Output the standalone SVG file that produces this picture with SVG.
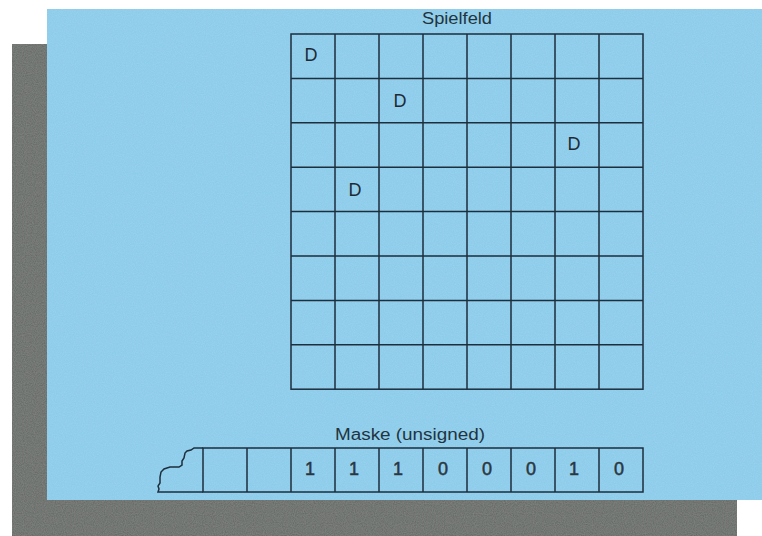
<svg xmlns="http://www.w3.org/2000/svg" width="762" height="536" viewBox="0 0 762 536">
<style>
.ln{fill:none;stroke:#1d2e3c;stroke-width:1.5}
.lbl{font-family:"Liberation Sans",Arial,sans-serif;fill:#23343f}
.d{font-family:"Liberation Sans",Arial,sans-serif;font-size:18px;fill:#1d2a36;text-anchor:middle}
.n{font-family:"Liberation Sans",Arial,sans-serif;font-size:18px;fill:#2a3640;stroke:#2a3640;stroke-width:0.5;text-anchor:middle}
</style>
<defs>
<filter id="tex" x="0" y="0" width="100%" height="100%">
<feTurbulence type="fractalNoise" baseFrequency="0.9" numOctaves="2" seed="3" result="noise"/>
<feColorMatrix in="noise" type="matrix" values="0 0 0 0 1  0 0 0 0 1  0 0 0 0 1  0 0 0 0.12 0" result="wn"/>
<feComposite in="wn" in2="SourceGraphic" operator="in" result="wc"/>
<feMerge><feMergeNode in="SourceGraphic"/><feMergeNode in="wc"/></feMerge>
</filter>
</defs>
<rect width="762" height="536" fill="#ffffff"/>
<g id="shadow"><rect x="12" y="44" width="725" height="492" fill="#626662" filter="url(#tex)"/></g>
<g id="panel"><rect x="47" y="9" width="715" height="491" fill="#86cbea" filter="url(#tex)"/></g>
<g id="spielfeld">
<text class="lbl" x="457" y="24" font-size="16" text-anchor="middle" textLength="70" lengthAdjust="spacingAndGlyphs">Spielfeld</text>
<rect class="ln" x="291" y="34" width="352" height="355.2"/>
<path class="ln" d="M335,34V389.2M379,34V389.2M423,34V389.2M467,34V389.2M511,34V389.2M555,34V389.2M599,34V389.2M291,78.4H643M291,122.8H643M291,167.2H643M291,211.6H643M291,256H643M291,300.4H643M291,344.8H643"/>
<text class="d" x="311" y="61">D</text>
<text class="d" x="400" y="107">D</text>
<text class="d" x="574" y="150">D</text>
<text class="d" x="355" y="196">D</text>
</g>
<g id="maske">
<text class="lbl" x="410" y="440" font-size="16" text-anchor="middle" textLength="150" lengthAdjust="spacingAndGlyphs">Maske (unsigned)</text>
<path class="ln" d="M203,448L194,448L191,450L187,451L185,453L184,458L182,461L182,465L179,467L170,467L164,469L161,472L160,477L160,483L158,486L159,489L158,492L203,492"/>
<rect class="ln" x="203" y="448" width="440" height="44"/>
<path class="ln" d="M247,448V492M291,448V492M335,448V492M379,448V492M423,448V492M467,448V492M511,448V492M555,448V492M599,448V492"/>
<text class="n" x="310" y="475">1</text>
<text class="n" x="354" y="475">1</text>
<text class="n" x="398" y="475">1</text>
<text class="n" x="443" y="475">0</text>
<text class="n" x="487" y="475">0</text>
<text class="n" x="531" y="475">0</text>
<text class="n" x="574" y="475">1</text>
<text class="n" x="619" y="475">0</text>
</g>
</svg>
